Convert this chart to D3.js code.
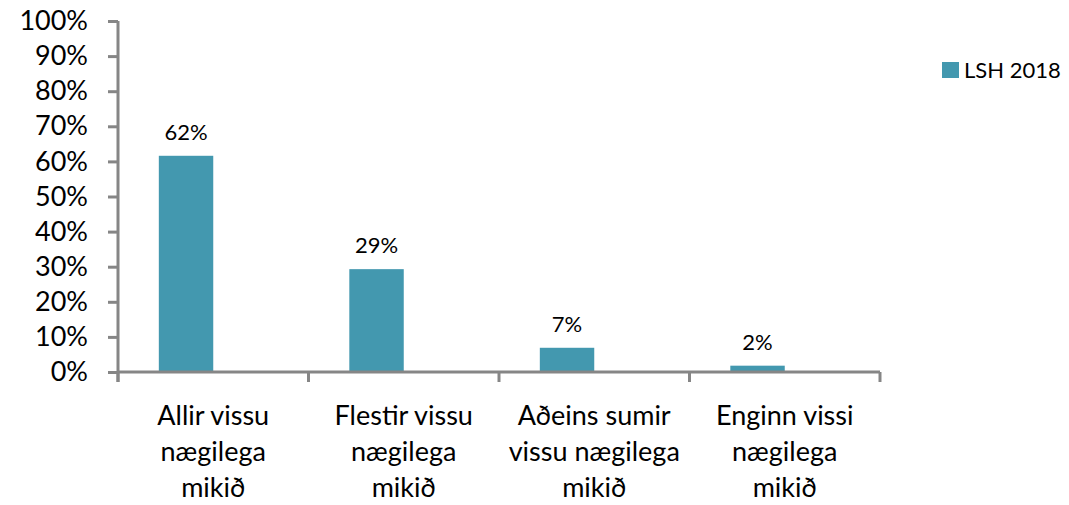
<!DOCTYPE html>
<html>
<head>
<meta charset="utf-8">
<script src="https://cdn.jsdelivr.net/npm/d3@7"></script>
<style>
  body { margin: 0; background: #fff; }
  text { font-family: Lato, "Liberation Sans", sans-serif; fill: #000; }
</style>
</head>
<body>
<script>
// Chart data
var categories = [
  ["Allir vissu", "nægilega", "mikið"],
  ["Flestir vissu", "nægilega", "mikið"],
  ["Aðeins sumir", "vissu nægilega", "mikið"],
  ["Enginn vissi", "nægilega", "mikið"]
];
var seriesName = "LSH 2018";
var values = [61.6, 29.3, 6.9, 1.8];
var valueLabels = ["62%", "29%", "7%", "2%"];
var yTicks = [0, 10, 20, 30, 40, 50, 60, 70, 80, 90, 100];

var width = 1069, height = 505;
var barColor = "#4398af";
var axisColor = "#868686";

// plot area (window.top is read-only, so own names)
var plotLeft = 118, plotRight = 880, plotTop = 21, plotBottom = 372;

var svg = d3.select("body")
  .append("svg")
  .attr("width", width)
  .attr("height", height);

var catKeys = categories.map(function(c) { return c.join(" "); });

var x = d3.scaleBand()
  .domain(catKeys)
  .range([plotLeft, plotRight])
  .paddingInner(0)
  .paddingOuter(0);

// excel-style: two slots per category, the second one is empty
var slot = d3.scaleBand()
  .domain([seriesName, "empty"])
  .range([0, x.bandwidth()])
  .paddingInner(0)
  .paddingOuter(0.75);

var y = d3.scaleLinear()
  .domain([0, 100])
  .range([plotBottom, plotTop]);

// Bars
svg.selectAll("rect.bar")
  .data(values)
  .enter()
  .append("rect")
  .attr("class", "bar")
  .attr("x", function(d, i) { return x(catKeys[i]) + slot(seriesName); })
  .attr("y", function(d) { return y(d); })
  .attr("width", slot.bandwidth())
  .attr("height", function(d) { return y(0) - y(d); })
  .style("fill", barColor);

// Value labels
svg.selectAll("text.val")
  .data(values)
  .enter()
  .append("text")
  .attr("class", "val")
  .attr("x", function(d, i) { return x(catKeys[i]) + slot(seriesName) + slot.bandwidth() / 2; })
  .attr("y", function(d) { return y(d) - 16; })
  .attr("text-anchor", "middle")
  .style("font-size", "22px")
  .text(function(d, i) { return valueLabels[i]; });

// Y axis
var yAxis = d3.axisLeft(y)
  .tickValues(yTicks)
  .tickFormat(function(d) { return d + "%"; })
  .tickSize(10)
  .tickSizeOuter(0)
  .tickPadding(20);

var gy = svg.append("g")
  .attr("transform", "translate(" + plotLeft + ",0)")
  .call(yAxis);
gy.select(".domain").remove();
gy.selectAll(".tick line").attr("stroke", axisColor).attr("stroke-width", 3);
gy.selectAll(".tick text")
  .style("font-size", "27px")
  .style("font-family", "Lato, 'Liberation Sans', sans-serif")
  .attr("fill", "#000");

// X axis line + ticks at category edges
svg.append("line")
  .attr("x1", plotLeft).attr("x2", plotRight)
  .attr("y1", y(0)).attr("y2", y(0))
  .attr("stroke", axisColor).attr("stroke-width", 3);

svg.append("line")
  .attr("x1", plotLeft).attr("x2", plotLeft)
  .attr("y1", plotTop).attr("y2", y(0) + 10)
  .attr("stroke", axisColor).attr("stroke-width", 3);

var edges = catKeys.map(function(c) { return x(c); }).concat([plotRight]);
svg.selectAll("line.xtick")
  .data(edges)
  .enter()
  .append("line")
  .attr("class", "xtick")
  .attr("x1", function(d) { return d; })
  .attr("x2", function(d) { return d; })
  .attr("y1", y(0))
  .attr("y2", y(0) + 10)
  .attr("stroke", axisColor)
  .attr("stroke-width", 3);

// Category labels
var catG = svg.selectAll("text.cat")
  .data(categories)
  .enter()
  .append("text")
  .attr("class", "cat")
  .attr("text-anchor", "middle")
  .style("font-size", "27px");

catG.selectAll("tspan")
  .data(function(d, i) { return d.map(function(line) { return { line: line, i: i }; }); })
  .enter()
  .append("tspan")
  .attr("x", function(d) { return x(catKeys[d.i]) + x.bandwidth() / 2; })
  .attr("y", function(d, j) { return 425 + j * 36; })
  .text(function(d) { return d.line; });

// Legend
var legend = svg.append("g").attr("transform", "translate(942,62)");
legend.append("rect")
  .attr("width", 17)
  .attr("height", 16)
  .style("fill", barColor);
legend.append("text")
  .attr("x", 22)
  .attr("y", 16)
  .style("font-size", "22px")
  .text(seriesName);
</script>
</body>
</html>
